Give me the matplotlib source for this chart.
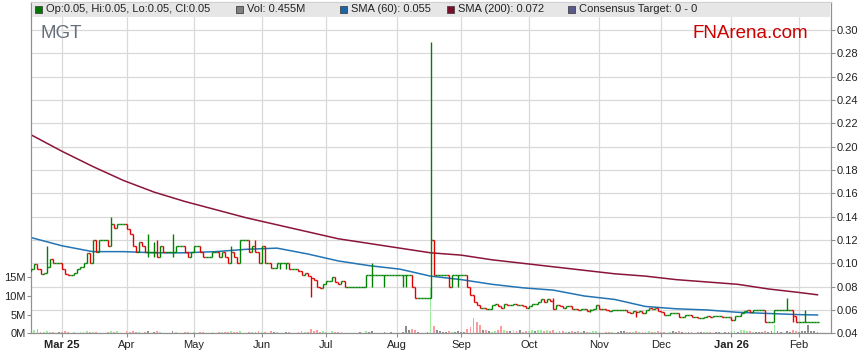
import numpy as np
import pandas as pd
import matplotlib
matplotlib.use('Agg')
import matplotlib.pyplot as plt
from matplotlib.patches import Rectangle
from matplotlib.collections import LineCollection

plt.rcParams['font.family'] = ['Liberation Sans', 'DejaVu Sans']

W, H = 859, 363

# weekdays shown on the chart
days = pd.bdate_range('2025-02-17', '2026-02-10')

first_open = 0.093
close = [
    0.095, 0.099, 0.095, 0.091, 0.092, 0.097, 0.104, 0.100, 0.100, 0.100,
    0.095, 0.091, 0.090, 0.090, 0.092, 0.095, 0.097, 0.100, 0.109, 0.100,
    0.120, 0.110, 0.120, 0.120, 0.120, 0.115, 0.134, 0.130, 0.134, 0.134,
    0.134, 0.129, 0.125, 0.115, 0.110, 0.118, 0.115, 0.110, 0.110, 0.110,
    0.110, 0.105, 0.115, 0.110, 0.110, 0.110, 0.110, 0.115, 0.115, 0.115,
    0.110, 0.105, 0.110, 0.115, 0.115, 0.110, 0.105, 0.105, 0.105, 0.110,
    0.110, 0.105, 0.110, 0.105, 0.100, 0.110, 0.105, 0.100, 0.120, 0.120,
    0.120, 0.110, 0.115, 0.110, 0.100, 0.115, 0.100, 0.100, 0.096, 0.096,
    0.100, 0.100, 0.100, 0.100, 0.095, 0.095, 0.095, 0.093, 0.090, 0.092,
    0.089, 0.087, 0.086, 0.080, 0.079, 0.082, 0.085, 0.085, 0.088, 0.084,
    0.082, 0.085, 0.080, 0.080, 0.080, 0.080, 0.080, 0.080, 0.080, 0.090,
    0.090, 0.090, 0.090, 0.090, 0.090, 0.090, 0.090, 0.090, 0.090, 0.090,
    0.090, 0.090, 0.090, 0.090, 0.080, 0.070, 0.070, 0.070, 0.070, 0.070,
    0.120, 0.090, 0.090, 0.090, 0.090, 0.090, 0.080, 0.090, 0.090, 0.090,
    0.090, 0.090, 0.080, 0.073, 0.067, 0.064, 0.062, 0.062, 0.061, 0.061,
    0.064, 0.065, 0.063, 0.062, 0.065, 0.064, 0.064, 0.065, 0.064, 0.064,
    0.063, 0.062, 0.063, 0.065, 0.065, 0.067, 0.069, 0.067, 0.069, 0.068,
    0.061, 0.064, 0.063, 0.062, 0.063, 0.063, 0.061, 0.061, 0.060, 0.061,
    0.061, 0.059, 0.060, 0.061, 0.064, 0.061, 0.061, 0.060, 0.059, 0.060,
    0.060, 0.060, 0.060, 0.060, 0.058, 0.057, 0.059, 0.058, 0.059, 0.057,
    0.060, 0.062, 0.061, 0.062, 0.059, 0.058, 0.056, 0.056, 0.057, 0.057,
    0.057, 0.054, 0.054, 0.056, 0.056, 0.054, 0.054, 0.053, 0.053, 0.054,
    0.055, 0.054, 0.055, 0.055, 0.055, 0.054, 0.054, 0.054, 0.051, 0.055,
    0.055, 0.057, 0.059, 0.060, 0.058, 0.060, 0.060, 0.060, 0.060, 0.050,
    0.050, 0.050, 0.060, 0.060, 0.060, 0.060, 0.060, 0.060, 0.055, 0.050,
    0.050, 0.050, 0.050, 0.050, 0.050, 0.050, 0.050,
]

# days whose high/low reach past open and close
wick_day = [5, 26, 38, 40, 41, 46, 65, 73, 81, 83, 91, 111, 115, 121, 122,
            130, 131, 139, 170, 182, 197, 246, 248, 252]
wick_high = [0.115, 0.140, 0.125, 0.118, 0.120, 0.125, 0.115, 0.120, 0.100, 0.100,
             0.089, 0.100, 0.090, 0.090, 0.090, 0.290, 0.120, 0.090, 0.070, 0.061,
             0.059, 0.070, 0.060, 0.060]
wick_low = [0.092, 0.115, 0.105, 0.105, 0.105, 0.105, 0.100, 0.110, 0.095, 0.095,
            0.071, 0.080, 0.080, 0.080, 0.080, 0.070, 0.090, 0.080, 0.061, 0.058,
            0.054, 0.060, 0.050, 0.050]

# volume in millions
volume = [
    0.5, 0.9, 1.1, 0.4, 0.3, 0.6, 0.4, 0.3, 0.2, 0.3,
    0.4, 0.5, 0.3, 0.2, 0.3, 0.2, 0.4, 0.3, 0.5, 0.3,
    0.4, 0.3, 0.2, 0.2, 0.2, 0.4, 0.6, 0.4, 0.5, 0.2,
    0.2, 0.5, 0.4, 0.6, 0.3, 0.4, 0.2, 0.3, 0.5, 0.2,
    0.4, 0.6, 0.3, 0.2, 0.2, 0.2, 0.6, 0.4, 0.2, 0.2,
    0.3, 0.4, 0.2, 0.3, 0.2, 0.3, 0.4, 0.2, 0.2, 0.3,
    0.2, 0.4, 0.3, 0.3, 0.4, 0.5, 0.3, 0.3, 0.5, 0.2,
    0.2, 0.4, 0.3, 0.4, 0.5, 0.3, 0.4, 0.2, 0.5, 0.3,
    0.3, 0.2, 0.2, 0.3, 0.4, 0.2, 0.2, 0.4, 0.5, 0.3,
    0.4, 1.1, 0.5, 0.8, 0.4, 0.5, 0.4, 0.2, 0.5, 0.4,
    0.3, 0.3, 0.2, 0.2, 0.2, 0.2, 0.2, 0.3, 0.2, 0.5,
    0.3, 0.6, 0.2, 0.2, 0.2, 0.4, 0.2, 0.3, 0.2, 0.2,
    0.2, 0.4, 1.9, 1.0, 1.2, 0.8, 0.3, 0.2, 0.2, 0.3,
    12.4, 2.0, 0.9, 0.5, 0.4, 0.3, 0.7, 0.4, 0.3, 0.5,
    0.4, 0.3, 1.2, 1.8, 4.1, 2.9, 2.2, 1.0, 0.9, 0.5,
    0.4, 0.5, 0.9, 1.9, 0.8, 0.6, 0.5, 0.8, 0.6, 0.9,
    0.4, 0.5, 0.6, 0.8, 0.5, 0.9, 1.0, 0.6, 0.8, 0.5,
    0.9, 0.4, 0.6, 0.5, 0.3, 0.4, 0.5, 0.3, 0.6, 0.4,
    0.5, 0.3, 0.4, 0.6, 0.5, 0.3, 0.2, 0.3, 0.4, 0.3,
    0.2, 0.3, 0.5, 0.6, 0.4, 0.3, 0.4, 0.5, 0.3, 0.4,
    0.3, 0.5, 0.4, 0.3, 0.6, 0.4, 0.3, 0.2, 0.4, 0.5,
    0.3, 0.6, 0.4, 0.3, 0.3, 0.4, 0.2, 0.4, 0.3, 0.3,
    0.4, 0.3, 0.2, 0.3, 0.3, 0.2, 0.3, 0.4, 0.5, 0.6,
    0.4, 0.9, 0.8, 0.5, 0.6, 0.3, 0.4, 0.3, 0.3, 0.5,
    0.4, 0.6, 2.3, 0.5, 0.3, 0.2, 0.6, 0.4, 0.8, 0.5,
    0.4, 0.6, 0.5, 2.1, 0.5, 0.6, 0.455,
]

# moving averages every 10 days
sma_day = [0, 10, 20, 30, 40, 50, 60, 70, 80, 90, 100, 110, 120, 130,
           140, 150, 160, 170, 180, 190, 200, 210, 220, 230, 240, 250, 256]
sma60 = [0.122, 0.115, 0.110, 0.110, 0.109, 0.109, 0.110, 0.112, 0.113, 0.108,
         0.102, 0.098, 0.095, 0.089, 0.086, 0.082, 0.079, 0.077, 0.072, 0.069,
         0.063, 0.061, 0.060, 0.058, 0.057, 0.056, 0.0557]
sma200 = [0.210, 0.196, 0.183, 0.171, 0.161, 0.153, 0.146, 0.139, 0.133, 0.127,
          0.121, 0.117, 0.113, 0.109, 0.107, 0.103, 0.100, 0.097, 0.094, 0.091,
          0.089, 0.086, 0.084, 0.082, 0.078, 0.075, 0.073]

legend_labels = ['Op:0.05, Hi:0.05, Lo:0.05, Cl:0.05', 'Vol: 0.455M',
                 'SMA (60): 0.055', 'SMA (200): 0.072', 'Consensus Target: 0 - 0']
legend_colors = ['#007700', '#808080', '#1a64a8', '#7a0f2a', '#5a5a8c']
legend_x = [35, 236, 340, 447, 568]

price_ticks = [0.04, 0.06, 0.08, 0.10, 0.12, 0.14, 0.16, 0.18, 0.20,
               0.22, 0.24, 0.26, 0.28, 0.30]
vol_ticks = [0, 5, 10, 15]

n = len(days)
assert len(close) == n and len(volume) == n

opens = [first_open] + close[:-1]
high = [max(o, c) for o, c in zip(opens, close)]
low = [min(o, c) for o, c in zip(opens, close)]
for d, h, l in zip(wick_day, wick_high, wick_low):
    high[d] = max(high[d], h)
    low[d] = min(low[d], l)

fig = plt.figure(figsize=(W / 100, H / 100), dpi=100)
ax = fig.add_axes([31 / W, (H - 333.3) / H, 800 / W, 331.3 / H])
axp = ax.twinx()

# volume bars (behind the price)
vcol = []
for o, c in zip(opens, close):
    if c > o:
        vcol.append('#99ee99')
    elif c < o:
        vcol.append('#ff9a9a')
    else:
        vcol.append('#8c8c8c')
ax.bar(range(n), volume, width=0.6, color=vcol, linewidth=0)
ax.set_ylim(0, 331.3 / 3.75)
ax.set_yticks(vol_ticks)
ax.set_yticklabels(['%dM' % v for v in vol_ticks])

# price bars: low-high line, open tick left, close tick right
segs, cols = [], []
for i in range(n):
    col = '#e00000' if close[i] < opens[i] else '#008000'
    segs.append([(i, low[i]), (i, high[i])])
    segs.append([(i - 0.5, opens[i]), (i, opens[i])])
    segs.append([(i, close[i]), (i + 0.5, close[i])])
    cols += [col] * 3
axp.add_collection(LineCollection(segs, colors=cols, linewidths=1.0, zorder=3))

axp.plot(sma_day, sma60, color='#2274b5', lw=1.1, zorder=2)
axp.plot(sma_day, sma200, color='#8b1538', lw=1.1, zorder=2)

axp.set_ylim(0.04, 0.04 + 331.3 / 1166.7)
axp.set_yticks(price_ticks)
axp.set_yticklabels(['%.2f' % p for p in price_ticks])
ax.set_xlim(-0.1, 260.4)

# month ticks
month_start = [i for i in range(1, n) if days[i].month != days[i - 1].month]
labels = []
for k, i in enumerate(month_start):
    if k == 0 or days[i].month == 1:
        labels.append(days[i].strftime('%b %y'))
    else:
        labels.append(days[i].strftime('%b'))
ax.set_xticks(month_start)
ax.set_xticklabels(labels)
for k, t in enumerate(ax.get_xticklabels()):
    if k == 0 or days[month_start[k]].month == 1:
        t.set_fontweight('bold')

ax.grid(axis='x', color='#d9d9d9', lw=0.9)
axp.grid(axis='y', color='#d9d9d9', lw=0.9)
ax.set_axisbelow(True)
axp.set_axisbelow(True)

for a in (ax, axp):
    for s in a.spines.values():
        s.set_color('#909090')
    a.spines['top'].set_color('#d0d0d0')
ax.tick_params(axis='y', length=3, pad=1, labelsize=8, colors='#909090', labelcolor='#222222')
ax.tick_params(axis='x', length=3, pad=2, labelsize=8, colors='#909090', labelcolor='#222222')
axp.tick_params(axis='y', length=3, pad=1, labelsize=8, colors='#909090', labelcolor='#222222')

# legend strip at the top
fig.add_artist(Rectangle((32 / W, 1 - 16.5 / H), 798 / W, 14 / H, transform=fig.transFigure,
                         facecolor='#e6e6e6', edgecolor='none', zorder=5))
for lab, col, x in zip(legend_labels, legend_colors, legend_x):
    fig.add_artist(Rectangle((x / W, 1 - 13 / H), 7 / W, 7 / H, transform=fig.transFigure,
                             facecolor=col, edgecolor='#444444', lw=0.6, zorder=6))
    fig.text((x + 11) / W, 1 - 9.5 / H, lab, fontsize=8, color='#222222',
             va='center', ha='left', zorder=7)

fig.text(41 / W, 1 - 33 / H, 'MGT', fontsize=13.5, color='#66707c', va='center', ha='left')
fig.text(808 / W, 1 - 33 / H, 'FNArena.com', fontsize=13.5, color='#cc0000', va='center', ha='right')

plt.savefig('out.png', dpi=100)
